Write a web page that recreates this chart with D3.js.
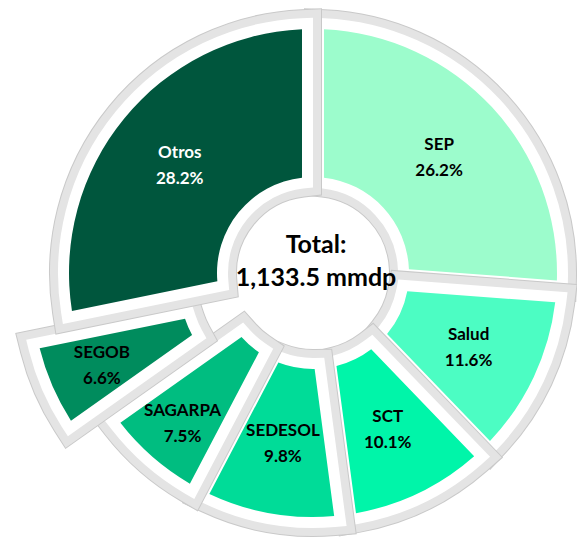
<!DOCTYPE html>
<html>
<head>
<meta charset="utf-8">
<script src="https://cdn.jsdelivr.net/npm/d3@7"></script>
<style>
  body { margin: 0; background: #fff; }
</style>
</head>
<body>
<script>
// data
var categories = ["SEP", "Salud", "SCT", "SEDESOL", "SAGARPA", "SEGOB", "Otros"];
var shares = [26.2, 11.6, 10.1, 9.8, 7.5, 6.6, 28.2];
var totalLines = ["Total:", "1,133.5 mmdp"];

// layout
var w = 577, h = 541;
var cx = 313, cy = 273;
var innerR = 96, outerR = 244;
var whiteBand = 11, grayBand = 8;
var gap = 22;
var colors = ["#9cfccc", "#4cfdc3", "#00f5a9", "#00dc98", "#00bd80", "#008c5d", "#00563d"];
var explode = { SEGOB: 40 };
var labelR = { SAGARPA: 198, SEGOB: 190 };

var svg = d3.select("body")
    .append("svg")
    .attr("width", w)
    .attr("height", h);

var pie = d3.pie().sort(null).value(function(d) { return d; });
var slices = pie(shares);

var padR = 200;
var arc = d3.arc()
    .innerRadius(innerR)
    .outerRadius(outerR)
    .padRadius(padR)
    .padAngle(2 * Math.asin((gap / 2) / padR));

var chart = svg.append("g")
    .attr("transform", "translate(" + cx + "," + cy + ")");

// one group per slice, drawn in order so later outlines sit on top
var groups = chart.selectAll("g.slice")
    .data(slices)
    .enter()
    .append("g")
    .attr("class", "slice")
    .attr("transform", function(d, i) {
        var e = explode[categories[i]] || 0;
        var a = (d.startAngle + d.endAngle) / 2;
        return "translate(" + (Math.sin(a) * e) + "," + (-Math.cos(a) * e) + ")";
    });

groups.append("path")
    .attr("d", arc)
    .attr("fill", "none")
    .attr("stroke", "#c9c9c9")
    .attr("stroke-width", 2 * (whiteBand + grayBand) + 2)
    .attr("stroke-linejoin", "miter");

groups.append("path")
    .attr("d", arc)
    .attr("fill", "none")
    .attr("stroke", "#e4e4e4")
    .attr("stroke-width", 2 * (whiteBand + grayBand))
    .attr("stroke-linejoin", "miter");

groups.append("path")
    .attr("d", arc)
    .attr("fill", "none")
    .attr("stroke", "#ffffff")
    .attr("stroke-width", 2 * whiteBand)
    .attr("stroke-linejoin", "miter");

groups.append("path")
    .attr("d", arc)
    .attr("fill", function(d, i) { return colors[i]; });

// labels
var labels = groups.append("text")
    .attr("font-family", "Lato, 'Open Sans', sans-serif")
    .attr("font-weight", "bold")
    .attr("font-size", "17px")
    .attr("text-anchor", "middle")
    .attr("fill", function(d, i) { return categories[i] === "Otros" ? "#ffffff" : "#000000"; })
    .attr("transform", function(d, i) {
        var r = labelR[categories[i]] || 172;
        var a = (d.startAngle + d.endAngle) / 2;
        return "translate(" + (Math.sin(a) * r) + "," + (-Math.cos(a) * r) + ")";
    });

labels.append("tspan")
    .attr("x", 0)
    .attr("y", -6)
    .text(function(d, i) { return categories[i]; });

labels.append("tspan")
    .attr("x", 0)
    .attr("y", 20)
    .text(function(d) { return d.data.toFixed(1) + "%"; });

// centre total
chart.append("g")
    .attr("transform", "translate(3,0)")
    .selectAll("text")
    .data(totalLines)
    .enter()
    .append("text")
    .attr("x", 0)
    .attr("y", function(d, i) { return i === 0 ? -20 : 13; })
    .attr("text-anchor", "middle")
    .attr("font-family", "Lato, 'Open Sans', sans-serif")
    .attr("font-weight", "bold")
    .attr("font-size", "25px")
    .attr("fill", "#000")
    .text(function(d) { return d; });
</script>
</body>
</html>
